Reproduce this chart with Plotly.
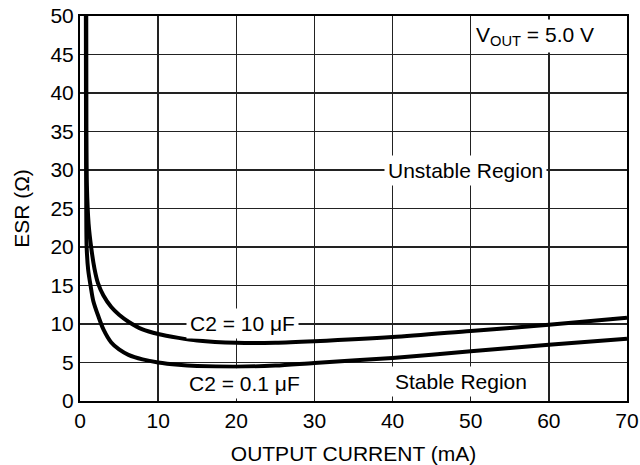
import plotly.graph_objects as go

# Data
x_10uF = [0.8, 0.82, 0.88, 1.1, 1.45, 1.85, 2.3, 3.0, 4, 5, 6.2, 8, 10, 12.6, 15, 20, 25, 30, 40, 50, 60, 70]
esr_10uF = [50, 35, 28, 23, 19.8, 17.2, 15.3, 13.7, 12.2, 11.2, 10.3, 9.3, 8.7, 8.2, 7.85, 7.55, 7.55, 7.75, 8.3, 9.1, 9.9, 10.8]

x_01uF = [0.75, 0.77, 0.8, 0.85, 1.05, 1.35, 1.7, 2.35, 3, 4, 5, 6.2, 8, 10, 12.6, 15, 20, 25, 30, 40, 50, 60, 70]
esr_01uF = [50, 35, 25, 20, 17, 15, 13, 11, 9.3, 7.6, 6.7, 6.0, 5.4, 5.0, 4.7, 4.55, 4.45, 4.6, 4.95, 5.6, 6.45, 7.3, 8.1]

x_ticks = [0, 10, 20, 30, 40, 50, 60, 70]
y_ticks = [0, 5, 10, 15, 20, 25, 30, 35, 40, 45, 50]

FONT = "Liberation Sans, Arial, Helvetica, sans-serif"
FS = 21

fig = go.Figure()
for xs, ys in ((x_10uF, esr_10uF), (x_01uF, esr_01uF)):
    fig.add_trace(go.Scatter(x=xs, y=ys, mode="lines",
                             line=dict(color="black", width=4, shape="spline", smoothing=0.8),
                             showlegend=False, hoverinfo="skip"))

ann_common = dict(showarrow=False, bgcolor="white", font=dict(family=FONT, size=FS, color="black"),
                  xref="x", yref="y", borderpad=3)
annotations = [
    dict(text="C2 = 10 μF", x=20.8, y=10.1, **ann_common),
    dict(text="C2 = 0.1 μF", x=21, y=2.3, **ann_common),
    dict(text="Stable Region", x=48.7, y=2.5, **ann_common),
    dict(text="Unstable Region", x=49.3, y=29.9, **ann_common),
    dict(text="V<sub>OUT</sub> = 5.0 V", x=58.2, y=47.4, **ann_common),
]
fig.update_layout(annotations=annotations)

axis_common = dict(showgrid=True, gridcolor="#222", gridwidth=1.5, zeroline=False,
                   showline=True, linecolor="black", linewidth=2, mirror=True, automargin=False,
                   ticks="", ticklabeloverflow="allow",
                   tickfont=dict(family=FONT, size=FS, color="black"))
fig.update_xaxes(range=[0, 70], tickvals=x_ticks, ticktext=[str(v) for v in x_ticks],
                 title=dict(text="OUTPUT CURRENT (mA)", font=dict(family=FONT, size=FS, color="black")),
                 **axis_common)
fig.update_yaxes(range=[0, 50], tickvals=y_ticks, ticktext=[str(v) for v in y_ticks],
                 title=dict(text="ESR (Ω)", font=dict(family=FONT, size=FS, color="black")),
                 **axis_common)

fig.update_layout(width=640, height=465, margin=dict(l=80, r=13, t=16, b=64),
                  plot_bgcolor="white", paper_bgcolor="white",
                  font=dict(family=FONT, size=FS, color="black"))

fig.write_html("out.html", config={"displayModeBar": False, "staticPlot": True},
               post_script="document.body.style.margin='0';document.body.style.overflow='hidden';")
